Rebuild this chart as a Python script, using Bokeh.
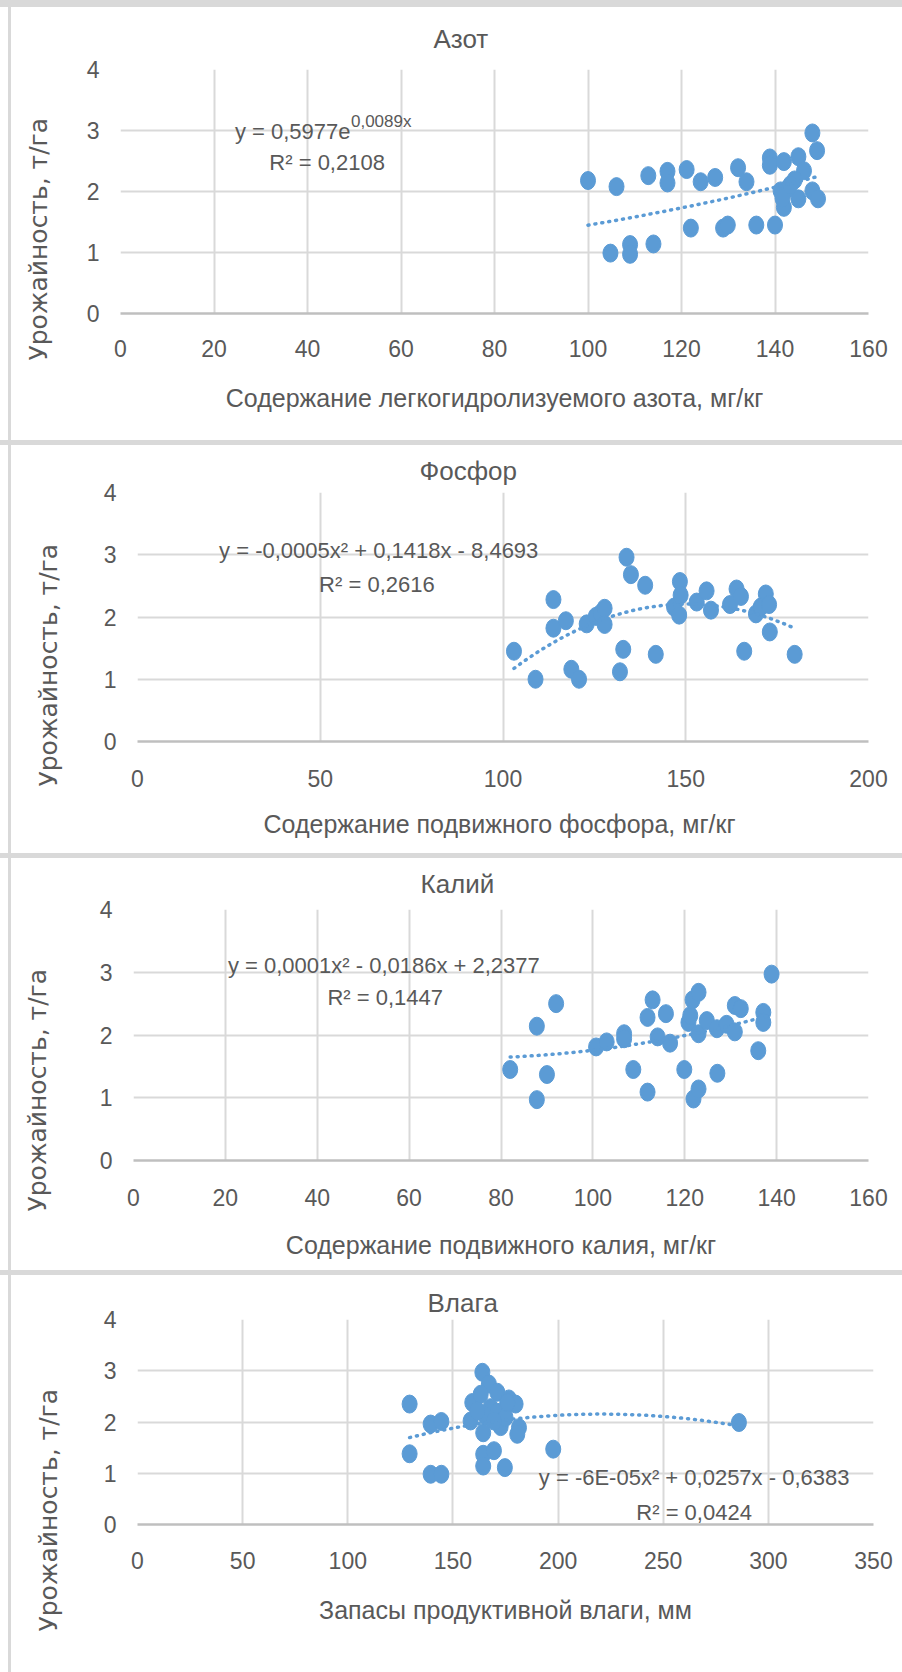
import numpy as np
from bokeh.plotting import figure
from bokeh.models import Range1d, FixedTicker, Label, Div, Title
from bokeh.layouts import column, row
from bokeh.embed import file_html
from bokeh.resources import INLINE

# ---------------- data ----------------
n_title = "Азот"
n_xlabel = "Содержание легкогидролизуемого азота, мг/кг"
n_x = [100, 106.1, 112.9, 117, 117, 121.1, 124.1, 127.2, 132.1, 133.9,
       138.9, 138.9, 141.9, 145, 146.2, 144.2, 148, 149, 148, 149.2,
       145, 141.9, 141.2, 142.6, 141.6, 143.3, 122, 128.9, 129.9, 136,
       140, 104.8, 109, 109, 114]
n_y = [2.18, 2.08, 2.26, 2.33, 2.14, 2.36, 2.16, 2.23, 2.39, 2.16,
       2.55, 2.43, 2.49, 2.57, 2.34, 2.19, 2.96, 2.67, 2.01, 1.88,
       1.88, 1.74, 2.01, 2.04, 1.89, 2.11, 1.40, 1.40, 1.45, 1.45,
       1.45, 0.99, 1.13, 0.97, 1.14]
n_xticks = [0, 20, 40, 60, 80, 100, 120, 140, 160]
n_eq_main = "y = 0,5977e"
n_eq_sup = "0,0089x"
n_r2 = "R² = 0,2108"

p_title = "Фосфор"
p_xlabel = "Содержание подвижного фосфора,  мг/кг"
p_x = [103, 108.9, 113.8, 113.8, 117.2, 118.7, 120.8, 122.9, 125.4, 126.7,
       127.8, 127.8, 132, 132.9, 133.8, 135, 138.9, 141.8, 146.8, 148.2,
       148.4, 148.6, 153, 155.7, 156.9, 162.1, 163.9, 165.1, 166, 169.2,
       171.9, 170.5, 172.8, 173, 179.8]
p_y = [1.45, 1.0, 2.28, 1.82, 1.94, 1.16, 1.0, 1.89, 2.01, 2.06,
       2.14, 1.88, 1.12, 1.48, 2.96, 2.68, 2.51, 1.40, 2.16, 2.03,
       2.57, 2.35, 2.24, 2.42, 2.11, 2.20, 2.45, 2.33, 1.45, 2.05,
       2.37, 2.16, 2.20, 1.76, 1.40]
p_xticks = [0, 50, 100, 150, 200]
p_eq = "y = -0,0005x² + 0,1418x - 8,4693"
p_r2 = "R² = 0,2616"

k_title = "Калий"
k_xlabel = "Содержание подвижного калия, мг/кг"
k_x = [82, 87.8, 87.8, 90, 92, 100.7, 103, 106.8, 106.8, 108.8,
       111.9, 111.9, 113, 114.1, 115.9, 116.8, 119.9, 120.8, 121.2, 121.7,
       123, 121.9, 123, 123, 124.8, 127, 127.1, 129.1, 130.9, 130.9,
       132.2, 136, 137.1, 137.1, 138.9]
k_y = [1.45, 2.14, 0.97, 1.37, 2.50, 1.81, 1.89, 2.02, 1.94, 1.45,
       2.28, 1.09, 2.56, 1.97, 2.34, 1.87, 1.45, 2.20, 2.31, 2.56,
       2.68, 0.98, 1.14, 2.02, 2.23, 2.10, 1.39, 2.17, 2.05, 2.47,
       2.42, 1.75, 2.36, 2.20, 2.97]
k_xticks = [0, 20, 40, 60, 80, 100, 120, 140, 160]
k_eq = "y = 0,0001x² - 0,0186x + 2,2377"
k_r2 = "R² = 0,1447"

w_title = "Влага"
w_xlabel = "Запасы продуктивной влаги, мм"
w_x = [129.4, 129.4, 139.4, 144.5, 139.4, 144.5, 164, 159.2, 158.4, 164.4,
       164.4, 164.4, 169.5, 174.7, 167.1, 171.1, 176.6, 179.8, 181.4, 180.6,
       172.7, 163.2, 167.9, 165.5, 171.1, 175, 161.6, 197.7, 286, 175.8,
       169.5]
w_y = [2.35, 1.38, 0.98, 0.98, 1.96, 2.01, 2.97, 2.38, 2.02, 1.79,
       1.37, 1.14, 1.44, 1.11, 2.74, 2.58, 2.45, 2.35, 1.89, 1.76,
       1.91, 2.54, 2.28, 2.12, 2.19, 2.09, 2.22, 1.47, 1.99, 2.38,
       2.02]
w_xticks = [0, 50, 100, 150, 200, 250, 300, 350]
w_eq = "y = -6E-05x² + 0,0257x - 0,6383"
w_r2 = "R² = 0,0424"

y_label = "Урожайность, т/га"
y_ticks = [0, 1, 2, 3, 4]

# ---------------- styling ----------------
FONT = "Liberation Sans"
YFONT = "DejaVu Sans"
TXT = "#595959"
BLUE = "#5B9BD5"
GRID = "#d9d9d9"
BAND = "#d9d9d9"
EDGE = 11           # white margin + grey rule at the very left
YW = 59             # strip holding the vertical axis title
W = 902 - EDGE - YW  # chart figure width


def lab(p, x, y, text, size="22px", align="center"):
    p.add_layout(Label(x=x, y=y, text=text, text_align=align, text_baseline="middle",
                       text_color=TXT, text_font=FONT, text_font_size=size))


def panel(xs, ys, xticks, height, left, right, top, bottom, title, t_offset, t_standoff,
          xlabel, tick_standoff, label_standoff, kind="quad"):
    xmax = xticks[-1]
    p = figure(width=W, height=height, x_range=Range1d(0, xmax), y_range=Range1d(0, 4),
               output_backend="svg", toolbar_location=None,
               min_border_left=left, min_border_right=right,
               min_border_top=top, min_border_bottom=bottom)
    p.background_fill_color = "white"
    p.border_fill_color = "white"
    p.outline_line_color = None

    p.title.text = title
    p.title.align = "left"
    p.title.offset = t_offset
    p.title.standoff = t_standoff
    p.title.vertical_align = "middle"
    p.title.text_font = FONT
    p.title.text_font_size = "26px"
    p.title.text_font_style = "normal"
    p.title.text_color = TXT

    p.xaxis.ticker = FixedTicker(ticks=xticks)
    p.yaxis.ticker = FixedTicker(ticks=y_ticks)
    p.xgrid.ticker = FixedTicker(ticks=xticks)
    p.ygrid.ticker = FixedTicker(ticks=y_ticks)
    p.grid.grid_line_color = GRID
    p.grid.grid_line_width = 2
    for ax in (p.xaxis, p.yaxis):
        ax.major_tick_line_color = None
        ax.minor_tick_line_color = None
        ax.major_tick_out = 0
        ax.major_tick_in = 0
        ax.minor_tick_out = 0
        ax.minor_tick_in = 0
        ax.major_label_text_font = FONT
        ax.major_label_text_font_size = "23px"
        ax.major_label_text_color = TXT
    p.yaxis.axis_line_color = None
    p.xaxis.axis_line_color = "#bfbfbf"
    p.xaxis.axis_line_width = 2.5
    p.yaxis.major_label_standoff = 21
    p.xaxis.major_label_standoff = tick_standoff
    p.xaxis.axis_label = xlabel
    p.xaxis.axis_label_text_font = FONT
    p.xaxis.axis_label_text_font_size = "25px"
    p.xaxis.axis_label_text_font_style = "normal"
    p.xaxis.axis_label_text_color = TXT
    p.xaxis.axis_label_standoff = label_standoff

    # trendline fitted from the points (as the spreadsheet does)
    xx = np.linspace(min(xs), max(xs), 120)
    if kind == "exp":
        c = np.polyfit(np.asarray(xs), np.log(np.asarray(ys)), 1)
        yy = np.exp(c[1]) * np.exp(c[0] * xx)
    else:
        c = np.polyfit(xs, ys, 2)
        yy = np.polyval(c, xx)
    p.ellipse(x=xs, y=ys, width=15, height=18, width_units="screen", height_units="screen",
              fill_color=BLUE, line_color=BLUE)
    p.line(xx, yy, line_color=BLUE, line_width=3.5, line_dash="1 6", line_cap="round")
    return p


def ytitle_fig(height, top, bottom, left, offset):
    f = figure(width=YW, height=height, x_axis_type=None, y_axis_type=None,
               output_backend="svg", toolbar_location=None,
               min_border_left=left, min_border_right=0,
               min_border_top=top, min_border_bottom=bottom)
    f.outline_line_color = None
    f.background_fill_color = "white"
    f.border_fill_color = "white"
    f.grid.visible = False
    f.add_layout(Title(text=y_label, align="left", offset=offset, standoff=0,
                       vertical_align="middle", text_font=YFONT, text_font_size="25px",
                       text_font_style="normal", text_color=TXT), "left")
    return f


def edge(h):
    html = (f'<div style="position:relative;width:{EDGE}px;height:{h}px;background:#ffffff;">'
            f'<div style="position:absolute;left:8px;top:0;width:3px;height:{h}px;'
            f'background:{BAND};"></div></div>')
    return Div(text=html, width=EDGE, height=h, margin=0)


def band(h):
    return Div(text="", width=902, height=h, margin=0,
               styles={"background-color": BAND})


def assemble(band_h, height, yfig, fig):
    return column(band(band_h), row(edge(height), yfig, fig, spacing=0, margin=0),
                  spacing=0, margin=0)


# Азот  (panel 433 px high, frame 120..868 x 68..313)
p1 = panel(n_x, n_y, n_xticks, 433, 50, 34, 61, 127, n_title, 313, 30,
           n_xlabel, 26, 24, kind="exp")
lab(p1, 49.2, 2.99, n_eq_main, align="right")
lab(p1, 49.3, 3.15, n_eq_sup, size="17px", align="left")
lab(p1, 44.2, 2.47, n_r2)
r1 = assemble(7, 433, ytitle_fig(433, 61, 127, 42, -47), p1)

# Фосфор (panel 408 px high)
p2 = panel(p_x, p_y, p_xticks, 408, 67, 34, 47, 112, p_title, 282, 12,
           p_xlabel, 28, 20)
lab(p2, 66.0, 3.07, p_eq)
lab(p2, 65.5, 2.52, p_r2)
r2 = assemble(5, 408, ytitle_fig(408, 47, 112, 52, -45), p2)

# Калий (panel 412 px high)
p3 = panel(k_x, k_y, k_xticks, 412, 63, 34, 51, 110, k_title, 287, 19,
           k_xlabel, 28, 22)
lab(p3, 54.5, 3.11, k_eq)
lab(p3, 54.8, 2.59, k_r2)
r3 = assemble(5, 412, ytitle_fig(412, 51, 110, 41, -51), p3)

# Влага (panel 397 px high)
p4 = panel(w_x, w_y, w_xticks, 397, 67, 29, 44, 148, w_title, 290, 2,
           w_xlabel, 27, 24)
lab(p4, 264.7, 0.91, w_eq)
lab(p4, 264.7, 0.23, w_r2)
r4 = assemble(5, 397, ytitle_fig(397, 44, 148, 52, -107), p4)

open("out.html", "w").write(file_html([r1, r2, r3, r4], INLINE))
